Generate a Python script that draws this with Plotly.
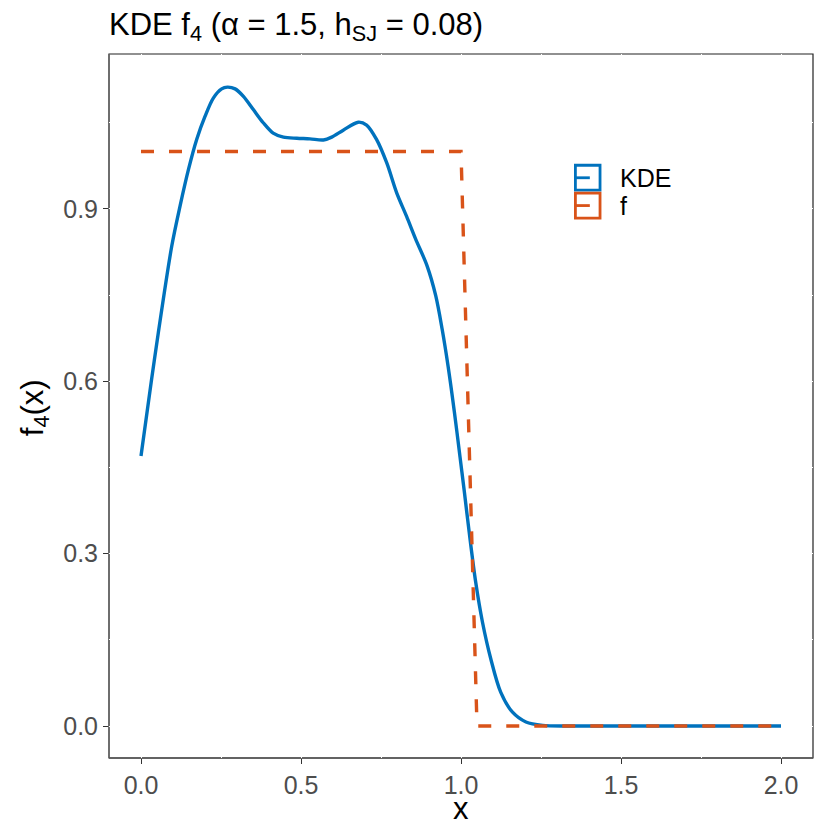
"""KDE f4 vs true density f — ggplot-style line chart"""

import plotly.graph_objects as go

# KDE estimate
kde_x = [0.000, 0.033, 0.054, 0.096, 0.122, 0.148, 0.174, 0.200, 0.226, 0.252,
         0.270, 0.294, 0.320, 0.351, 0.382, 0.413, 0.445, 0.487, 0.528, 0.570,
         0.596, 0.632, 0.679, 0.705, 0.736, 0.768, 0.799, 0.830, 0.858, 0.894,
         0.921, 0.941, 0.960, 0.979, 0.997, 1.010, 1.025, 1.046, 1.067, 1.093,
         1.124, 1.161, 1.203, 1.255, 1.350, 1.600, 1.800, 2.000]
kde_y = [0.470, 0.603, 0.684, 0.835, 0.905, 0.968, 1.021, 1.061, 1.093, 1.109,
         1.112, 1.109, 1.096, 1.073, 1.050, 1.032, 1.025, 1.023, 1.022, 1.020,
         1.025, 1.037, 1.051, 1.046, 1.021, 0.980, 0.928, 0.887, 0.848, 0.801,
         0.749, 0.691, 0.625, 0.548, 0.468, 0.410, 0.340, 0.250, 0.181, 0.117,
         0.059, 0.024, 0.007, 0.001, 0.000, 0.000, 0.000, 0.000]

# true density f
f_x = [0.0, 1.0, 1.05, 2.0]
f_y = [1.0, 1.0, 0.0, 0.0]

x_ticks = [0.0, 0.5, 1.0, 1.5, 2.0]
y_ticks = [0.0, 0.3, 0.6, 0.9]

BLUE = "#0072BD"
ORANGE = "#D95319"
FONT = "Liberation Sans, Arial, sans-serif"

# page body has an 8px margin, so the figure is a bit smaller than the window
W = 822

fig = go.Figure()

fig.add_trace(go.Scatter(
    x=kde_x, y=kde_y, mode="lines", name="KDE",
    line=dict(color=BLUE, width=3.4, shape="spline", smoothing=0.9),
    showlegend=False
))
fig.add_trace(go.Scatter(
    x=f_x, y=f_y, mode="lines", name="f",
    line=dict(color=ORANGE, width=3.4, dash="13px,15px"),
    showlegend=False
))

shapes = [
    # panel border (under the white grid, like ggplot)
    dict(type="rect", xref="paper", yref="paper", x0=0, x1=1, y0=0, y1=1,
         line=dict(color="#222222", width=1.2), layer="below"),
    dict(type="line", xref="paper", yref="paper", x0=0, x1=0, y0=0, y1=1,
         line=dict(color="#6b6b6b", width=1.5), layer="below"),
    dict(type="line", xref="paper", yref="paper", x0=0, x1=1, y0=0, y1=0,
         line=dict(color="#555555", width=1.5), layer="below"),
]

# hand-drawn legend keys
legend_items = [("KDE", BLUE, 0.842), ("f", ORANGE, 0.8025)]
annotations = []
for label, col, top in legend_items:
    shapes.append(dict(type="rect", xref="paper", yref="paper",
                       x0=0.6625, x1=0.6975, y0=top - 0.0355, y1=top,
                       line=dict(color=col, width=2.8), fillcolor="white"))
    shapes.append(dict(type="line", xref="paper", yref="paper",
                       x0=0.6625, x1=0.683, y0=top - 0.0178, y1=top - 0.0178,
                       line=dict(color=col, width=2.8)))
    annotations.append(dict(text=label, xref="paper", yref="paper",
                            x=0.7235, y=top - 0.0185, xanchor="left", yanchor="middle",
                            showarrow=False, font=dict(size=25, color="black", family=FONT)))

# axis titles
annotations.append(dict(text="x", xref="paper", yref="paper", x=0.5, y=-0.072,
                        xanchor="center", yanchor="middle", showarrow=False,
                        font=dict(size=31, color="black", family=FONT)))
annotations.append(dict(text="f<sub>4</sub>(x)", xref="paper", yref="paper", x=-0.105, y=0.497,
                        xanchor="center", yanchor="middle", textangle=-90, showarrow=False,
                        font=dict(size=31, color="black", family=FONT)))

fig.update_layout(
    width=W, height=W,
    margin=dict(l=101, r=17, t=46, b=72),
    paper_bgcolor="white", plot_bgcolor="white",
    font=dict(family=FONT),
    title=dict(text="KDE f<sub>4</sub> (α = 1.5, h<sub>SJ</sub> = 0.08)",
               x=101 / W, xanchor="left", xref="container",
               y=1 - 16 / W, yanchor="middle", yref="container",
               font=dict(size=31, color="black", family=FONT)),
    shapes=shapes,
    annotations=annotations,
)

fig.update_xaxes(
    range=[-0.1, 2.1], tickvals=x_ticks, ticktext=[f"{v:.1f}" for v in x_ticks],
    showgrid=True, gridcolor="white", gridwidth=1.2,
    minor=dict(showgrid=True, gridcolor="white", gridwidth=1.2, dtick=0.25, tick0=0),
    zeroline=False, showline=False,
    ticks="outside", ticklen=5, tickwidth=1.2, tickcolor="#333333",
    tickfont=dict(size=25, color="#4D4D4D", family=FONT),
)
fig.update_yaxes(
    range=[-0.0557, 1.1697], tickvals=y_ticks, ticktext=[f"{v:.1f}" for v in y_ticks],
    showgrid=True, gridcolor="white", gridwidth=1.2,
    minor=dict(showgrid=True, gridcolor="white", gridwidth=1.2, dtick=0.15, tick0=0),
    zeroline=False, showline=False,
    ticks="outside", ticklen=5, tickwidth=1.2, tickcolor="#333333",
    tickfont=dict(size=25, color="#4D4D4D", family=FONT),
)

fig.write_html("out.html")
